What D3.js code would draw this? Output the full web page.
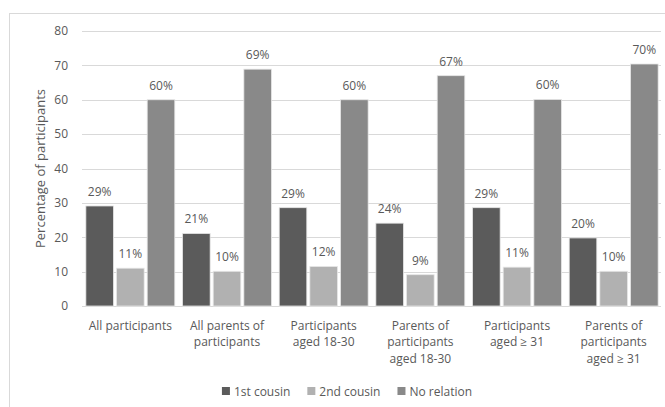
<!DOCTYPE html>
<html>
<head>
<meta charset="utf-8">
<script src="https://cdn.jsdelivr.net/npm/d3@7"></script>
<style>
  body { margin: 0; background: #fff; }
  text { font-family: "Open Sans", "Noto Sans", sans-serif; fill: #595959; }
</style>
</head>
<body>
<div id="chart"></div>
<script>
// chart data
const categories = [
    'All participants',
    'All parents of\nparticipants',
    'Participants\naged 18-30',
    'Parents of\nparticipants\naged 18-30',
    'Participants\naged \u2265 31',
    'Parents of\nparticipants\naged \u2265 31'
];
const seriesNames = ['1st cousin', '2nd cousin', 'No relation'];
const firstCousin = [29.1, 21.1, 28.6, 24.1, 28.6, 19.8];
const secondCousin = [11.0, 10.1, 11.5, 9.1, 11.3, 10.1];
const noRelation = [60.0, 68.9, 60.0, 67.0, 60.1, 70.4];
const labels1 = ['29%', '21%', '29%', '24%', '29%', '20%'];
const labels2 = ['11%', '10%', '12%', '9%', '11%', '10%'];
const labels3 = ['60%', '69%', '60%', '67%', '60%', '70%'];
const yTicks = [0, 10, 20, 30, 40, 50, 60, 70, 80];

const colors = ['#5b5b5b', '#b1b1b1', '#898989'];
const fontFamily = '"Open Sans", "Noto Sans", sans-serif';

const svgWidth = 665, svgHeight = 407;
const margin = {top: 31, right: 3, bottom: 101, left: 82};

const svg = d3.select('#chart')
    .append('svg')
    .attr('width', svgWidth)
    .attr('height', svgHeight);

svg.append('rect')
    .attr('width', svgWidth).attr('height', svgHeight)
    .attr('fill', '#fff');

// outer chart frame (cropped on the right and bottom)
svg.append('rect')
    .attr('x', 9.5).attr('y', 13.5)
    .attr('width', 700).attr('height', 420)
    .attr('fill', 'none')
    .attr('stroke', '#d9d9d9');

const x = d3.scaleBand()
    .domain(categories)
    .range([margin.left, svgWidth - margin.right])
    .paddingInner(0.08)
    .paddingOuter(0.04);

const xs = d3.scaleBand()
    .domain(seriesNames)
    .range([0, x.bandwidth()])
    .paddingInner(0.1);

const y = d3.scaleLinear()
    .domain([0, 80])
    .range([svgHeight - margin.bottom, margin.top]);

// gridlines
svg.append('g')
    .selectAll('line')
    .data(yTicks)
    .join('line')
    .attr('x1', margin.left)
    .attr('x2', svgWidth - 4)
    .attr('y1', d => Math.round(y(d)) + 0.5)
    .attr('y2', d => Math.round(y(d)) + 0.5)
    .attr('stroke', '#d9d9d9')
    .attr('stroke-width', 1);

// y axis labels
const yAxis = svg.append('g')
    .attr('transform', `translate(${margin.left},0)`)
    .call(d3.axisLeft(y).tickValues(yTicks).tickSize(0).tickPadding(14));
yAxis.select('.domain').remove();
yAxis.selectAll('text')
    .attr('font-size', 12)
    .style('font-family', fontFamily)
    .attr('fill', '#595959');

svg.append('text')
    .attr('transform', `translate(45,${(y(0) + y(80)) / 2}) rotate(-90)`)
    .attr('text-anchor', 'middle')
    .attr('font-size', 13)
    .text('Percentage of participants');

// bars
const seriesData = [firstCousin, secondCousin, noRelation];
const seriesLabels = [labels1, labels2, labels3];

seriesNames.forEach((name, si) => {
    const g = svg.append('g');
    const rows = categories.map((c, i) => ({c, v: seriesData[si][i], lab: seriesLabels[si][i]}));
    g.selectAll('rect')
        .data(rows)
        .join('rect')
        .attr('x', d => x(d.c) + xs(name))
        .attr('y', d => y(d.v))
        .attr('width', xs.bandwidth())
        .attr('height', d => y(0) - y(d.v))
        .attr('fill', colors[si])
        .attr('stroke', '#e6e6e6')
        .attr('stroke-width', 0.8);
    g.selectAll('text')
        .data(rows)
        .join('text')
        .attr('x', d => x(d.c) + xs(name) + xs.bandwidth() / 2)
        .attr('y', d => y(d.v) - 10)
        .attr('text-anchor', 'middle')
        .attr('font-size', 12)
        .text(d => d.lab);
});

// category labels
const xl = svg.append('g');
categories.forEach(c => {
    const lines = c.split('\n');
    const t = xl.append('text')
        .attr('text-anchor', 'middle')
        .attr('font-size', 12)
        .attr('y', 329.5);
    lines.forEach((ln, li) => {
        t.append('tspan')
            .attr('x', x(c) + x.bandwidth() / 2)
            .attr('y', 329.5 + li * 16.8)
            .text(ln);
    });
});

// legend
const legend = svg.append('g');
let lx = 0;
seriesNames.forEach((name, i) => {
    const it = legend.append('g');
    it.append('rect')
        .attr('x', 0).attr('y', -4)
        .attr('width', 8).attr('height', 8)
        .attr('fill', colors[i]);
    const t = it.append('text')
        .attr('x', 12).attr('y', 4.5)
        .attr('font-size', 12)
        .text(name);
    it.attr('transform', `translate(${lx},391)`);
    lx += 12 + t.node().getComputedTextLength() + 17;
});
const legendW = lx - 17;
legend.attr('transform', `translate(${347 - legendW / 2},0)`);
</script>
</body>
</html>
